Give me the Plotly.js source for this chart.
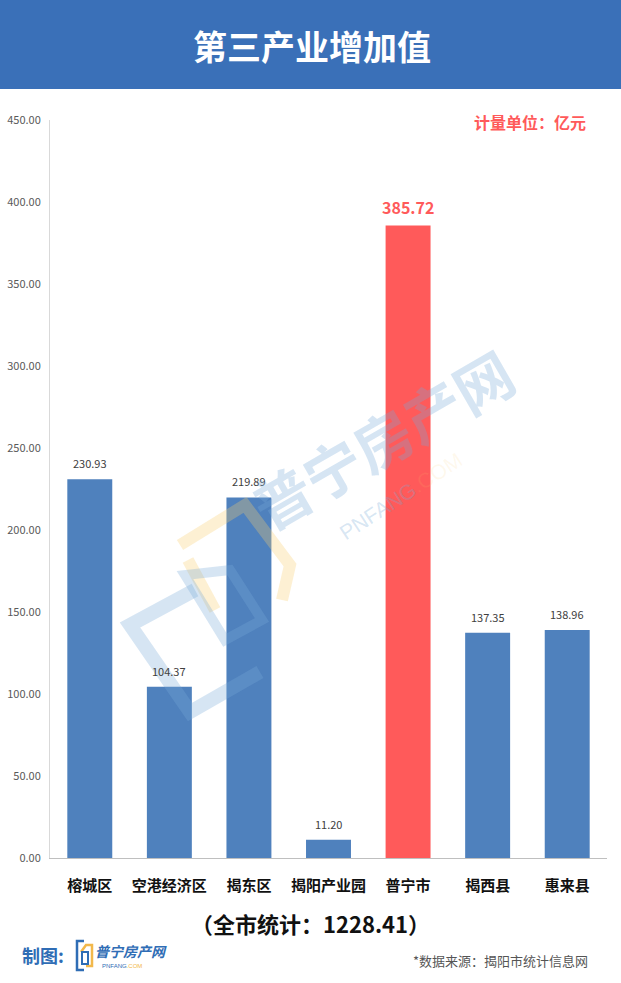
<!DOCTYPE html>
<html>
<head>
<meta charset="utf-8">
<script src="https://cdn.plot.ly/plotly-3.0.1.min.js"></script>
<style>
html,body{margin:0;padding:0;background:#fff;}
#chart{width:621px;height:983px;}
</style>
</head>
<body>
<div id="chart"></div>
<script>
const categories = ['榕城区','空港经济区','揭东区','揭阳产业园','普宁市','揭西县','惠来县'];
const values = [230.93, 104.37, 219.89, 11.20, 385.72, 137.35, 138.96];
const highlight = '普宁市';
const yTicks = [0, 50, 100, 150, 200, 250, 300, 350, 400, 450];
const titleText = '第三产业增加值';
const unitText = '计量单位：亿元';
const totalText = '（全市统计：1228.41）';
const sourceText = '*数据来源：揭阳市统计信息网';

const BLUE = '#4f81bd', RED = '#ff5a5a';
const FONT = '"Noto Sans CJK SC", "Microsoft YaHei", sans-serif';
const colors = categories.map(c => c === highlight ? RED : BLUE);

const W = 621, H = 983, L = 50, R = 14, T = 120, B = 125;
const pw = W - L - R, ph = H - T - B;
const px = x => (x - L) / pw;
const py = y => (H - B - y) / ph;

const annotations = categories.map((c, i) => ({
  x: c, y: values[i], xref: 'x', yref: 'y', yanchor: 'bottom', yshift: c === highlight ? 4 : 6,
  text: values[i].toFixed(2), showarrow: false,
  font: c === highlight ? {family: FONT, size: 16, color: RED, weight: 700} : {family: FONT, size: 11, color: '#404040'}
}));

const P = (x, y, text, font, extra) => Object.assign({
  xref:'paper', yref:'paper', x: px(x), y: py(y), xanchor:'center', yanchor:'middle',
  text, showarrow:false, font
}, extra || {});

annotations.push(
  P(312, 45, titleText, {family:FONT, size:34, color:'#ffffff', weight:700}),
  P(588, 122, unitText, {family:FONT, size:16, color:RED, weight:700}, {xanchor:'right'}),
  P(310, 923, totalText, {family:FONT, size:22, color:'#111111', weight:700}),
  P(590, 960, sourceText, {family:FONT, size:13, color:'#555555'}, {xanchor:'right'}),
  P(20, 955, '制图:', {family:FONT, size:18, color:'#2f6db5', weight:700}, {xanchor:'left'}),
  P(93, 951, '<i>普宁房产网</i>', {family:FONT, size:14, color:'#2f6db5', weight:700}, {xanchor:'left'}),
  P(100, 966, 'PNFANG<span style="color:#f2b84b">.COM</span>', {family:'Liberation Sans, sans-serif', size:6, color:'#2f6db5'}, {xanchor:'left'}),
  // watermark
  P(382, 438, '普宁房产网', {family:FONT, size:58, color:'rgba(120,170,215,0.3)', weight:700}, {textangle:-30}),
  P(400, 496, 'PNFANG<span style="color:rgba(250,200,110,0.4)">.COM</span>', {family:'Liberation Sans, sans-serif', size:21, color:'rgba(120,170,215,0.3)'}, {textangle:-33})
);

const shapes = [
  {type:'rect', xref:'paper', yref:'paper', x0: px(-5), x1: px(630), y0: py(89), y1: py(-5),
   fillcolor:'#3a70b8', line:{width:0}, layer:'below'},
  // footer logo icon
  {type:'path', xref:'paper', yref:'paper',
   path:`M ${px(84)} ${py(941)} L ${px(77)} ${py(941)} L ${px(77)} ${py(970)} L ${px(84)} ${py(970)}`,
   line:{color:'#2f6db5', width:2.5}},
  {type:'path', xref:'paper', yref:'paper',
   path:`M ${px(81)} ${py(952)} L ${px(86)} ${py(945)} L ${px(92)} ${py(945)} L ${px(92)} ${py(966)} L ${px(86)} ${py(966)}`,
   line:{color:'#f2b84b', width:2.5}},
  {type:'rect', xref:'paper', yref:'paper', x0: px(82), x1: px(88), y0: py(964), y1: py(952),
   line:{color:'#2f6db5', width:2}},
  // watermark icon
  {type:'path', xref:'paper', yref:'paper',
   path:`M ${px(195)} ${py(590)} L ${px(130)} ${py(625)} L ${px(190)} ${py(712)} L ${px(260)} ${py(672)}`,
   line:{color:'rgba(120,170,215,0.3)', width:14}},
  {type:'path', xref:'paper', yref:'paper',
   path:`M ${px(180)} ${py(545)} L ${px(245)} ${py(505)} L ${px(290)} ${py(565)} L ${px(282)} ${py(600)}`,
   line:{color:'rgba(250,205,110,0.3)', width:12}},
  {type:'path', xref:'paper', yref:'paper',
   path:`M ${px(188)} ${py(560)} L ${px(215)} ${py(610)}`,
   line:{color:'rgba(250,205,110,0.3)', width:12}},
  {type:'path', xref:'paper', yref:'paper',
   path:`M ${px(185)} ${py(575)} L ${px(225)} ${py(640)} L ${px(262)} ${py(620)} L ${px(230)} ${py(570)} Z`,
   line:{color:'rgba(120,170,215,0.3)', width:10}}
];

const trace = {
  type:'bar', x: categories, y: values,
  marker:{color: colors, line:{width:0}},
  hoverinfo:'none'
};

const layout = {
  width: W, height: H,
  margin:{l:L, r:R, t:T, b:B, pad:0},
  paper_bgcolor:'#ffffff', plot_bgcolor:'rgba(0,0,0,0)',
  showlegend:false,
  bargap: 0.435,
  font:{family:FONT},
  xaxis:{
    type:'category', showgrid:false, zeroline:false,
    showline:true, linecolor:'#bfbfbf', linewidth:1,
    ticks:'outside', ticklen:14, tickcolor:'rgba(0,0,0,0)',
    tickfont:{family:FONT, size:15, color:'#111111', weight:700},
    fixedrange:true
  },
  yaxis:{
    range:[0, 450], tickvals: yTicks, ticktext: yTicks.map(v => v.toFixed(2)),
    showgrid:false, zeroline:false,
    showline:true, linecolor:'#d9d9d9', linewidth:1,
    ticks:'outside', ticklen:6, tickcolor:'rgba(0,0,0,0)',
    tickfont:{family:FONT, size:11, color:'#595959'},
    fixedrange:true
  },
  annotations, shapes
};

Plotly.newPlot('chart', [trace], layout, {displayModeBar:false, staticPlot:true});
</script>
</body>
</html>
